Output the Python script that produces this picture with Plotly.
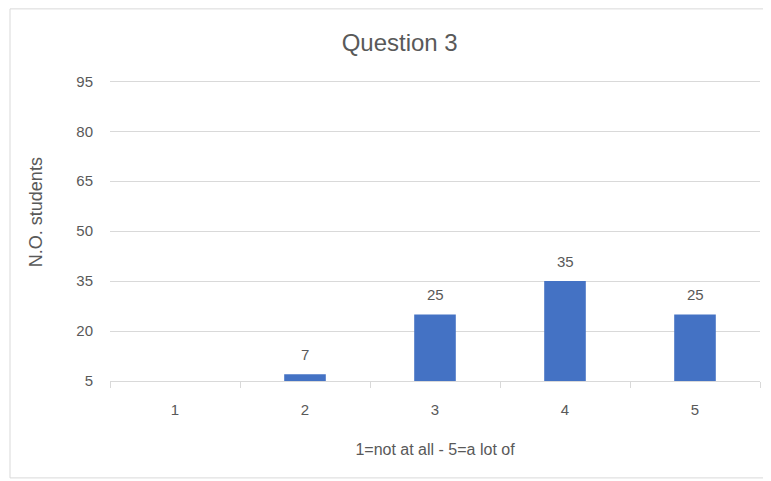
import plotly.graph_objects as go

categories = ["1", "2", "3", "4", "5"]
values = [0, 7, 25, 35, 25]
y_ticks = [5, 20, 35, 50, 65, 80, 95]

FONT = "Liberation Sans, Arial, sans-serif"
GRAY = "#595959"

fig = go.Figure()
fig.add_trace(go.Bar(
    x=categories, y=values,
    marker=dict(color="#4472C4", line=dict(width=0)),
    width=0.32,
))

annotations = []
for i, v in enumerate(values):
    if v > 0:
        annotations.append(dict(x=i, y=v, xref="x", yref="y", text=str(v),
                                showarrow=False, yshift=20,
                                font=dict(size=15, color=GRAY, family=FONT)))

# y-axis title placed as an annotation (it sits above the plot centre in the reference)
annotations.append(dict(text="N.O. students", xref="paper", yref="paper",
                        x=(36 - 110) / 650, y=(381 - 212) / 303.3,
                        xanchor="center", yanchor="middle", textangle=-90,
                        showarrow=False,
                        font=dict(size=18, color=GRAY, family=FONT)))

# plot area: x 110..760, y(5)=381, y(95)=81 in screen pixels (page has 8px body offset)
fig.update_layout(
    width=771, height=481,
    margin=dict(l=102, r=19, t=70, b=108),
    paper_bgcolor="white", plot_bgcolor="white",
    showlegend=False,
    title=dict(text="Question 3", x=0.508, xanchor="center", y=0.929, yanchor="middle",
               font=dict(size=24, color=GRAY, family=FONT)),
    annotations=annotations,
    xaxis=dict(
        type="category",
        range=[-0.5, 4.5],
        showgrid=False,
        showline=True, linecolor="#d9d9d9", linewidth=1,
        ticks="outside", tickson="boundaries", ticklen=6, tickcolor="#d9d9d9",
        ticklabelstandoff=15,
        tickfont=dict(size=15, color=GRAY, family=FONT),
        automargin=False,
        title=dict(text="1=not at all - 5=a lot of", standoff=26,
                   font=dict(size=16, color=GRAY, family=FONT)),
    ),
    yaxis=dict(
        range=[5, 96],
        tickvals=y_ticks,
        showgrid=True, gridcolor="#d9d9d9", gridwidth=1,
        zeroline=False, showline=False,
        ticks="", ticklabelstandoff=16,
        tickfont=dict(size=15, color=GRAY, family=FONT),
        automargin=False,
    ),
    shapes=[dict(type="rect", xref="paper", yref="paper",
                 x0=(10 - 110) / 650, x1=(820 - 110) / 650,
                 y0=(381 - 478) / 303.3, y1=(381 - 8.5) / 303.3,
                 line=dict(color="#d9d9d9", width=1), layer="below")],
)

fig.write_html("out.html")
